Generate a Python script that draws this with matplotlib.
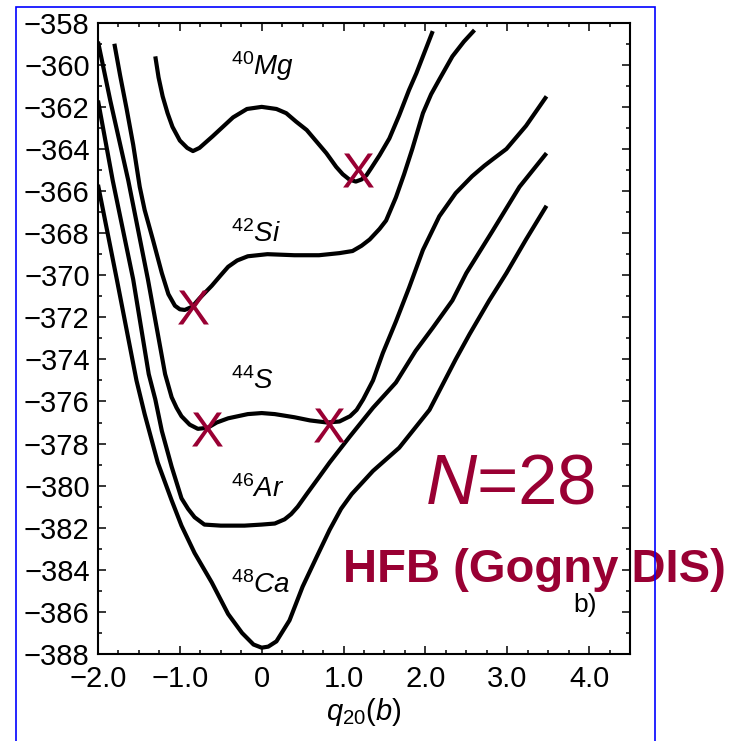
import matplotlib
matplotlib.use("Agg")
import matplotlib.pyplot as plt
from matplotlib.patches import Rectangle
from matplotlib.ticker import MultipleLocator, FixedLocator, FixedFormatter

plt.rcParams['font.family'] = 'Liberation Sans'
plt.rcParams['mathtext.fontset'] = 'custom'
plt.rcParams['mathtext.rm'] = 'Liberation Sans'
plt.rcParams['mathtext.it'] = 'Liberation Sans:italic'
plt.rcParams['mathtext.bf'] = 'Liberation Sans:bold'

WINE = '#990033'

# potential energy surfaces E(q20) in MeV, N = 28 isotones
mg40_q = [-1.30, -1.26, -1.21, -1.15, -1.09, -1.00, -0.91, -0.84, -0.76, -0.60, -0.35, -0.18,
          0.00, 0.18, 0.30, 0.42, 0.55, 0.67, 0.79, 0.91, 0.99, 1.07, 1.15, 1.22, 1.28, 1.34,
          1.44, 1.56, 1.68, 1.80, 1.89, 1.96, 2.09]
mg40_e = [-359.6, -360.6, -361.5, -362.3, -362.95, -363.6, -363.95, -364.1, -363.95, -363.4,
          -362.5, -362.1, -362.0, -362.1, -362.3, -362.7, -363.1, -363.65, -364.2, -364.85,
          -365.2, -365.45, -365.55, -365.45, -365.25, -364.9, -364.3, -363.5, -362.4, -361.2,
          -360.4, -359.7, -358.4]

si42_q = [-1.80, -1.73, -1.65, -1.57, -1.49, -1.43, -1.33, -1.22, -1.14, -1.06, -1.00, -0.94,
          -0.85, -0.76, -0.61, -0.50, -0.41, -0.30, -0.17, 0.07, 0.40, 0.70, 0.95, 1.11, 1.22,
          1.32, 1.44, 1.52, 1.64, 1.74, 1.84, 1.97, 2.07, 2.17, 2.33, 2.47, 2.60]
si42_e = [-359.0, -360.5, -362.1, -363.8, -365.8, -366.9, -368.3, -369.9, -370.9, -371.45,
          -371.62, -371.65, -371.5, -371.1, -370.5, -370.0, -369.6, -369.3, -369.1, -369.0,
          -369.05, -369.05, -368.95, -368.85, -368.6, -368.3, -367.8, -367.4, -366.3, -365.2,
          -364.0, -362.3, -361.4, -360.7, -359.6, -358.9, -358.35]

s44_q = [-2.00, -1.85, -1.63, -1.39, -1.18, -1.10, -1.04, -0.98, -0.88, -0.78, -0.66, -0.55,
         -0.41, -0.17, 0.00, 0.16, 0.40, 0.59, 0.80, 0.95, 1.08, 1.16, 1.24, 1.36, 1.48, 1.64,
         1.80, 1.97, 2.17, 2.37, 2.57, 2.72, 2.82, 2.99, 3.23, 3.48]
s44_e = [-358.9, -361.7, -365.5, -370.2, -374.7, -375.8, -376.3, -376.7, -377.1, -377.3,
         -377.25, -377.0, -376.8, -376.6, -376.55, -376.6, -376.75, -376.9, -377.0, -376.95,
         -376.7, -376.4, -375.9, -375.0, -373.7, -372.2, -370.6, -368.8, -367.2, -366.1,
         -365.3, -364.8, -364.5, -364.0, -362.9, -361.5]

ar46_q = [-2.00, -1.82, -1.57, -1.38, -1.30, -1.22, -1.10, -0.98, -0.90, -0.82, -0.70, -0.50,
          -0.21, 0.00, 0.16, 0.28, 0.36, 0.44, 0.55, 0.70, 0.83, 1.07, 1.36, 1.64, 1.88, 2.09,
          2.33, 2.50, 2.82, 3.15, 3.48]
ar46_e = [-361.7, -365.5, -370.2, -374.7, -375.9, -377.4, -379.1, -380.6, -381.1, -381.5,
          -381.85, -381.9, -381.9, -381.85, -381.8, -381.6, -381.35, -381.0, -380.4, -379.6,
          -378.9, -377.7, -376.3, -375.1, -373.6, -372.5, -371.2, -369.9, -367.9, -365.8,
          -364.2]

ca48_q = [-2.00, -1.77, -1.53, -1.43, -1.27, -1.10, -0.98, -0.82, -0.61, -0.41, -0.24, -0.10,
          0.00, 0.08, 0.18, 0.34, 0.50, 0.67, 0.83, 0.97, 1.10, 1.36, 1.68, 2.05, 2.37, 2.54,
          2.78, 2.99, 3.23, 3.48]
ca48_e = [-365.7, -370.2, -375.0, -376.6, -378.9, -380.7, -381.9, -383.2, -384.6, -386.1,
          -387.0, -387.55, -387.7, -387.65, -387.4, -386.4, -384.8, -383.4, -382.1, -381.1,
          -380.4, -379.3, -378.2, -376.4, -374.0, -372.8, -371.2, -369.9, -368.3, -366.7]

# ground-state minima
min_q = [1.18, -0.84, -0.665, 0.817]
min_e = [-365.0, -371.5, -377.3, -377.1]

nuclei = [r'$^{40}Mg$', r'$^{42}Si$', r'$^{44}S$', r'$^{46}Ar$', r'$^{48}Ca$']
label_q = [-0.37, -0.37, -0.37, -0.37, -0.37]
label_e = [-360.5, -368.4, -375.4, -380.55, -385.1]

x_ticks = [-2, -1, 0, 1, 2, 3, 4]
x_tick_labels = ['\u22122.0', '\u22121.0', '0', '1.0', '2.0', '3.0', '4.0']

fig = plt.figure(figsize=(7.38, 7.41), dpi=100)
ax = fig.add_axes([98 / 738, 1 - 654 / 741, 532 / 738, 631.3 / 741])

for q, e in [(mg40_q, mg40_e), (si42_q, si42_e), (s44_q, s44_e),
             (ar46_q, ar46_e), (ca48_q, ca48_e)]:
    ax.plot(q, e, color='black', lw=3.0, solid_joinstyle='round', solid_capstyle='butt')

ax.plot(min_q, min_e, ls='none', marker=r'$\mathrm{X}$', ms=24.5,
        color=WINE, mec=WINE, mew=0, zorder=5)

for s, q, e in zip(nuclei, label_q, label_e):
    ax.text(q, e, s, fontsize=20, va='baseline', ha='left')

ax.set_xlim(-2.0, 4.5)
ax.set_ylim(-388, -358)
ax.xaxis.set_major_locator(FixedLocator(x_ticks))
ax.xaxis.set_major_formatter(FixedFormatter(x_tick_labels))
ax.xaxis.set_minor_locator(MultipleLocator(0.25))
ax.yaxis.set_major_locator(MultipleLocator(2))
ax.yaxis.set_minor_locator(MultipleLocator(1))

ax.tick_params(which='both', direction='in', top=True, right=True, width=1.1,
               labelsize=21)
ax.tick_params(which='major', length=5.5)
ax.tick_params(which='minor', length=3)
ax.tick_params(axis='x', pad=8)
ax.tick_params(axis='y', pad=6)
for sp in ax.spines.values():
    sp.set_linewidth(1.5)

ax.set_xlabel(r'$q_{20}(b)$', fontsize=21, labelpad=2)

fig.text(425 / 738, 1 - 503 / 741, r'$N$=28', fontsize=51, color=WINE,
         ha='left', va='baseline')
fig.text(343 / 738, 1 - 582 / 741, 'HFB (Gogny DIS)', fontsize=34, color=WINE,
         fontweight='bold', ha='left', va='baseline')
fig.text(573 / 738, 1 - 612 / 741, 'b)', fontsize=19, ha='left', va='baseline')

frame = Rectangle((16 / 738, -0.1), 639 / 738, 1.1 - 7 / 741, transform=fig.transFigure,
                  fill=False, ec='#0000ff', lw=1.2, zorder=100)
fig.add_artist(frame)

fig.savefig('out.png', dpi=100)
